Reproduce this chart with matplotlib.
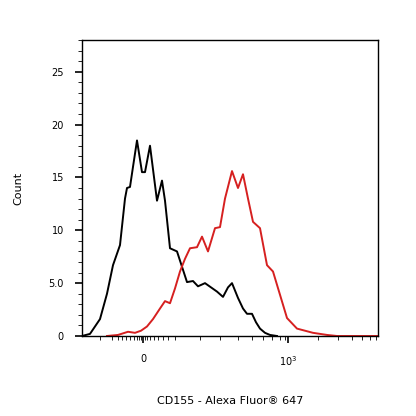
import matplotlib
matplotlib.use("Agg")
import matplotlib.pyplot as plt
import numpy as np

# channel positions (pixel-like scale, 82..378)
black_x = [82,90,100,107,113,120,125,127,130,133,137,142,145,150,157,162,165,170,177,187,193,198,205,217,223,228,232,238,243,247,252,256,260,265,270,277]
black_y = [0,0.2,1.6,4,6.7,8.6,13,14,14.1,16,18.5,15.5,15.5,18,12.8,14.7,12.8,8.3,8,5.1,5.2,4.7,5,4.2,3.7,4.6,5,3.6,2.6,2.1,2.1,1.3,0.7,0.3,0.1,0]
red_x = [107,118,128,135,141,147,153,160,165,170,175,180,185,190,197,202,208,215,220,225,232,238,243,248,253,260,267,273,280,287,297,305,313,327,337,378]
red_y = [0,0.1,0.4,0.3,0.5,0.9,1.6,2.6,3.3,3.1,4.5,6.1,7.3,8.3,8.4,9.4,8,10.2,10.3,13,15.6,14,15.3,13,10.8,10.2,6.7,6.1,3.9,1.7,0.7,0.5,0.3,0.1,0,0]

fig = plt.figure(figsize=(4.16,4.16), dpi=100)
ax = fig.add_axes([82/416, 1-336/416, 296/416, 296/416])
ax.plot(black_x, black_y, color="black", lw=1.4)
ax.plot(red_x, red_y, color="#d62020", lw=1.4)
ax.set_xlim(82,378)
ax.set_ylim(0,28)
ax.set_yticks([0,5,10,15,20,25])
ax.set_yticklabels(["0","5.0","10","15","20","25"], fontsize=7)
ax.set_yticks(np.arange(0,28.1,1), minor=True)
ax.set_xticks([143,288])
ax.set_xticklabels(["0","$10^3$"], fontsize=7)
minor = [100,112,118,122,126,130,134,137,139,141,145,147,150,154,158,163,168,175,200,220,238,252,263,272,280,285,318,338,352,362,370,376]
ax.set_xticks(minor, minor=True)
ax.tick_params(which="major", length=5, width=1.2, pad=8)
ax.tick_params(which="minor", length=3)
for s in ax.spines.values():
    s.set_linewidth(1.0)
ax.set_ylabel("Count", fontsize=8, labelpad=18)
ax.set_xlabel("CD155 - Alexa Fluor® 647", fontsize=8, labelpad=20)
fig.savefig("out.png", dpi=100)
